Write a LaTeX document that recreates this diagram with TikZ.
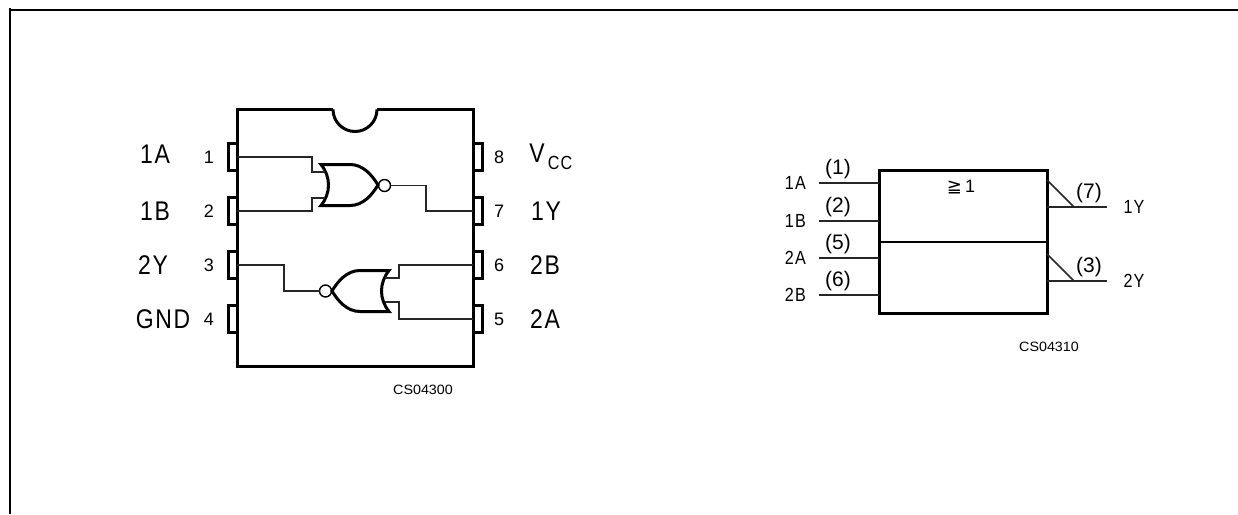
\documentclass[tikz,border=0pt]{standalone}
\usepackage{fontspec}
\setmainfont{Liberation Sans}
\newfontfamily\labelfont[FakeStretch=0.85,LetterSpace=6]{Liberation Sans}
\newfontfamily\partfont[FakeStretch=1.06]{Liberation Sans}
\newfontfamily\symfont{DejaVu Sans}
\usetikzlibrary{positioning}
\tikzstyle{chip} = [draw,line width=3pt,rectangle,inner sep=0,outer sep=0]
\tikzstyle{tab} = [draw,line width=3pt,rectangle,inner sep=0,outer sep=0,minimum width=9pt,minimum height=27pt]
\tikzstyle{wire} = [-,line width=1.7pt,color=black!85]
\tikzstyle{gate} = [-,line width=3pt]
\tikzstyle{bubble} = [draw,circle,line width=1.4pt,inner sep=0,outer sep=0,minimum size=12pt]
\tikzstyle{biglabel} = [inner sep=0,font=\fontsize{27}{27}\labelfont]
\tikzstyle{midlabel} = [inner sep=0,font=\fontsize{19}{19}\labelfont]
\tikzstyle{pinno} = [inner sep=0,font=\fontsize{18}{18}\selectfont]
\tikzstyle{parlabel} = [inner sep=0,font=\fontsize{21}{21}\selectfont]
\tikzstyle{partno} = [inner sep=0,font=\fontsize{13.5}{13.5}\partfont]
\def \gatew {57}
\def \gateh {20.5}
\begin{document}
\begin{tikzpicture}[x=1pt,y=-1pt]
  \useasboundingbox (0,0) rectangle (1238,514);
  % frame
  \coordinate (fa) at (10,514);
  \coordinate (fb) at (10,8);
  \coordinate (fc) at (10,10);
  \coordinate (fd) at (1238,10);
  \draw[line width=2.5pt] (fa) -- (fb);
  \draw[line width=2.5pt] (fc) -- (fd);
  % package
  \node[chip,minimum width=236pt,minimum height=256.5pt] (ic) at (355,237.75) {};
  \fill[white] (333,108) rectangle (377,111);
  \coordinate (nl) at (333,109.5);
  \draw[gate] (nl) arc[start angle=180,end angle=360,radius=22pt];
  \foreach \n/\y in {1/157,2/211,3/265,4/319}
    \node[tab,anchor=east] (p\n) at (237,\y) {};
  \foreach \n/\y in {8/157,7/211,6/265,5/319}
    \node[tab,anchor=west] (p\n) at (473,\y) {};
  % upper gate
  \begin{scope}[shift={(378,185)}]
    \draw[gate] (-\gatew,-\gateh) .. controls (-47,-8) and (-47,8) .. (-\gatew,\gateh)
      -- (-28,\gateh) .. controls (-15,\gateh) and (-6,10) .. (0,0)
      .. controls (-6,-10) and (-15,-\gateh) .. (-28,-\gateh) -- cycle;
    \coordinate (ua) at (-53,-13);
    \coordinate (ub) at (-53,13);
    \node[bubble] (uo) at (6.5,0.5) {};
  \end{scope}
  % lower gate
  \begin{scope}[shift={(332,291)}]
    \draw[gate] (\gatew,-\gateh) .. controls (47,-8) and (47,8) .. (\gatew,\gateh)
      -- (28,\gateh) .. controls (15,\gateh) and (6,10) .. (0,0)
      .. controls (6,-10) and (15,-\gateh) .. (28,-\gateh) -- cycle;
    \coordinate (la) at (53,-13);
    \coordinate (lb) at (53,11);
    \node[bubble] (lo) at (-6.5,0) {};
  \end{scope}
  \draw[wire] (p1.east) -| (312,172) -- (ua);
  \draw[wire] (p2.east) -| (312,198) -- (ub);
  \draw[wire] (uo.east) -| (426,211) -- (p7.west);
  \draw[wire] (p3.east) -| (284,291) -- (lo.west);
  \draw[wire] (p6.west) -| (399,278) -- (la);
  \draw[wire] (p5.west) -| (399,302) -- (lb);
  % pin names
  \node[biglabel] (n1a) at (155,154) {1A};
  \node[biglabel] (n1b) at (155,211) {1B};
  \node[biglabel] (n2y) at (153,265) {2Y};
  \node[biglabel] (ngnd) at (163,319) {GND};
  \node[biglabel] (nv) at (537,153) {V};
  \node[midlabel] (ncc) at (560,163) {CC};
  \node[biglabel] (n1y) at (546,211) {1Y};
  \node[biglabel] (n2b) at (545,265) {2B};
  \node[biglabel] (n2a) at (545,319) {2A};
  \foreach \n/\y in {1/157,2/211,3/265,4/319}
    \node[pinno] (t\n) at (209,\y) {\n};
  \foreach \n/\y in {8/157,7/211,6/265,5/319}
    \node[pinno] (t\n) at (499,\y) {\n};
  \node[partno] (cap1) at (423,390) {CS04300};
  % logic symbol
  \node[chip,minimum width=168pt,minimum height=143pt] (sym) at (963,241.5) {};
  \draw[line width=2pt] (sym.west) -- (sym.east);
  \foreach \l/\p/\y in {1A/1/183,1B/2/221,2A/5/258,2B/6/295} {
    \coordinate (i\p) at (819,\y);
    \draw[wire] (i\p) -- (879,\y);
    \node[midlabel,left=13pt of i\p] (il\p) {\l};
    \node[parlabel] (ip\p) at (838,\y-14) {(\p)};
  }
  \foreach \l/\p/\y in {1Y/7/207,2Y/3/281} {
    \coordinate (o\p) at (1107,\y);
    \coordinate (k\p) at (1074,\y);
    \coordinate (d\p) at (1047,\y-27);
    \draw[wire] (1047,\y) -- (o\p);
    \draw[wire] (d\p) -- (k\p);
    \node[midlabel] (ol\p) at (1134,\y) {\l};
    \node[parlabel] (op\p) at (1089,\y-14) {(\p)};
  }
  \node[inner sep=0,font=\fontsize{18}{18}\selectfont] (ge) at (961,187) {{\symfont ≧}\,1};
  \node[partno] (cap2) at (1049,347) {CS04310};
\end{tikzpicture}
\end{document}
